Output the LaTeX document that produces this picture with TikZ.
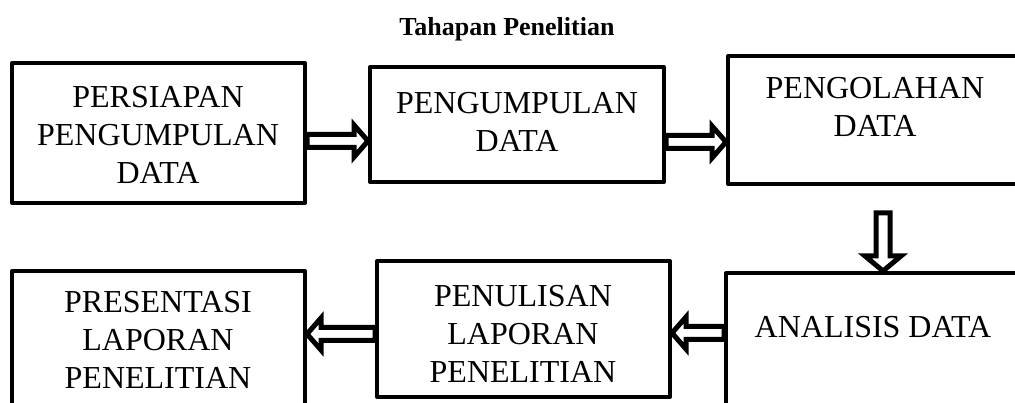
\documentclass[tikz,border=0pt]{standalone}
\usepackage{fontspec}
\setmainfont{Liberation Serif}
\usetikzlibrary{calc}
\tikzset{
  box/.style={draw, line width=4pt, line join=round, rectangle, inner sep=0pt},
  txt/.style={align=center, inner sep=0pt, font=\fontsize{32}{38}\selectfont},
  hollow/.style={draw, line width=5pt, line join=miter},
}
\newcommand\hollowR[2]{\draw[hollow] ($(#1)+(0,-6.5)$) -- ($(#2)+(-14,-6.5)$) -- ($(#2)+(-14,-16)$) -- (#2) -- ($(#2)+(-14,16)$) -- ($(#2)+(-14,6.5)$) -- ($(#1)+(0,6.5)$) -- cycle;}
\newcommand\hollowL[2]{\draw[hollow] ($(#1)+(0,-6.5)$) -- ($(#2)+(14,-6.5)$) -- ($(#2)+(14,-16)$) -- (#2) -- ($(#2)+(14,16)$) -- ($(#2)+(14,6.5)$) -- ($(#1)+(0,6.5)$) -- cycle;}
\newcommand\hollowD[2]{\draw[hollow] ($(#1)+(-7,0)$) -- ($(#2)+(-7,-15)$) -- ($(#2)+(-18,-15)$) -- (#2) -- ($(#2)+(18,-15)$) -- ($(#2)+(7,-15)$) -- ($(#1)+(7,0)$) -- cycle;}
\begin{document}
\begin{tikzpicture}[x=1pt,y=-1pt]
\useasboundingbox (0,0) rectangle (1015,403);
\fill[white] (0,0) rectangle (1015,403);
\clip (0,0) rectangle (1015,403);
\node[font=\fontsize{26}{30}\selectfont\bfseries, inner sep=0pt] (title) at (507,29) {Tahapan Penelitian};
% boxes
\node[box, minimum width=293pt, minimum height=140pt] (b1) at (158.5,133) {};
\node[box, minimum width=294pt, minimum height=115pt] (b2) at (517,124.5) {};
\node[box, minimum width=294pt, minimum height=128pt] (b3) at (875,120) {};
\node[box, minimum width=294pt, minimum height=147pt] (b4) at (873,346.5) {};
\node[box, minimum width=293pt, minimum height=136pt] (b5) at (523.5,329) {};
\node[box, minimum width=293pt, minimum height=134pt] (b6) at (158.5,338) {};
% texts
\node[txt] (t1) at (158,135) {PERSIAPAN\\PENGUMPULAN\\DATA};
\node[txt] (t2) at (517,122) {PENGUMPULAN\\DATA};
\node[txt] (t3) at (875,107) {PENGOLAHAN\\DATA};
\node[txt] (t4) at (873,327) {ANALISIS DATA};
\node[txt] (t5) at (523,334) {PENULISAN\\LAPORAN\\PENELITIAN};
\node[txt] (t6) at (158,340) {PRESENTASI\\LAPORAN\\PENELITIAN};
% arrows
\coordinate (s1) at (b1.east |- 0,141);
\coordinate (e1) at (b2.west |- s1);
\coordinate (s2) at (b2.east |- 0,142);
\coordinate (e2) at (b3.west |- s2);
\coordinate (s3) at (883,213);
\coordinate (e3) at (s3 |- b4.north);
\coordinate (s4) at (b4.west |- 0,333);
\coordinate (e4) at (b5.east |- s4);
\coordinate (s5) at (b5.west |- 0,334);
\coordinate (e5) at (b6.east |- s5);
\hollowR{s1}{e1}
\hollowR{s2}{e2}
\hollowD{s3}{e3}
\hollowL{s4}{e4}
\hollowL{s5}{e5}
\end{tikzpicture}
\end{document}
